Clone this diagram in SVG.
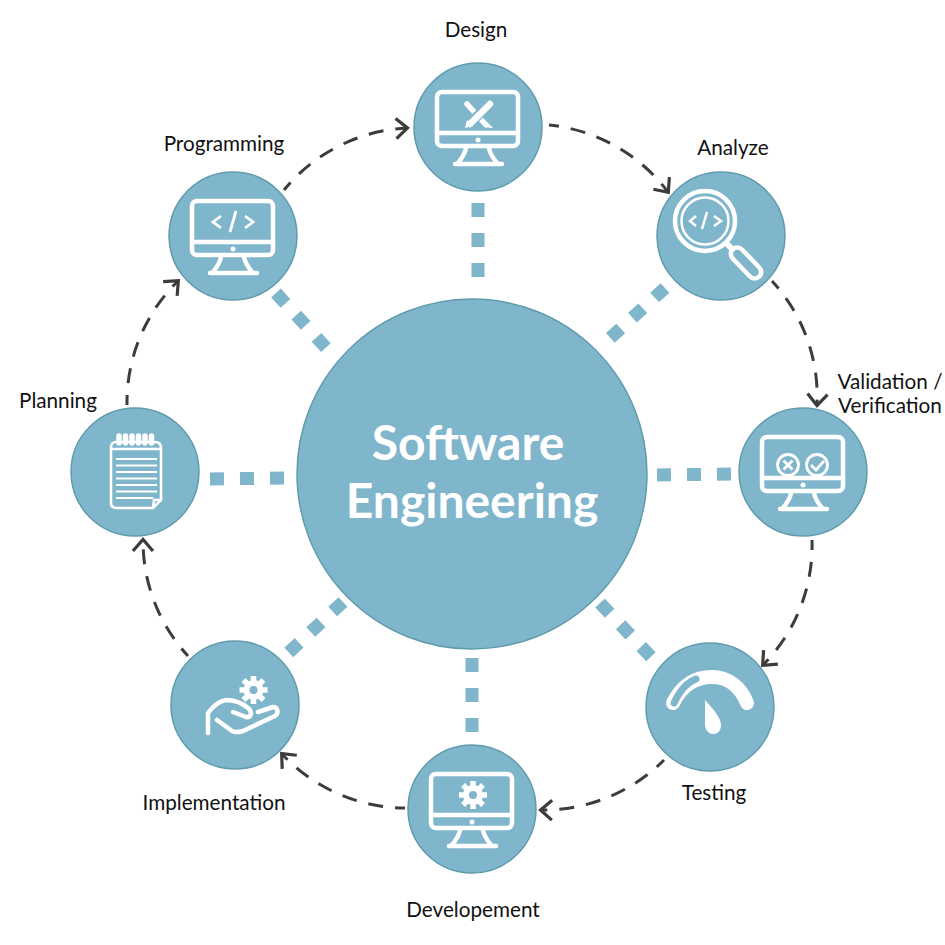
<svg xmlns="http://www.w3.org/2000/svg" width="945" height="945" viewBox="0 0 945 945">
<style>
text{font-family:Lato,"Liberation Sans",sans-serif;font-size:20.7px;fill:#111;text-anchor:middle}
.t{font-size:48px;font-weight:700;fill:#fff}
.n{fill:#80b6cc;stroke:#5f9bad;stroke-width:1.5}
.a{fill:none;stroke:#3c3c3c;stroke-width:3;stroke-dasharray:15 12;stroke-dashoffset:5;marker-end:url(#h)}
.s{fill:none;stroke:#80b6cc;stroke-width:13;stroke-dasharray:14 16}
.i{fill:none;stroke:#fff;stroke-width:4.5;stroke-linecap:round;stroke-linejoin:round}
.f{fill:#fff}
</style>
<defs>
<marker id="h" markerUnits="userSpaceOnUse" markerWidth="24" markerHeight="24" refX="12" refY="12" orient="auto" overflow="visible"><path d="M1 2 L12.500 12 L1 22" fill="none" stroke="#3c3c3c" stroke-width="3.200"/></marker>
<g id="mon">
<rect x="-41" y="-35" width="81" height="54" rx="5" class="i"/>
<path d="M-41 6 H40" class="i"/>
<circle cx="0" cy="13" r="2.500" class="f"/>
<path d="M-12 21 C-13 27 -16 31 -20 36 M11 21 C12 27 15 31 19 36" class="i"/>
<path d="M-23 37 H24" class="i"/>
</g>
<g id="gear">
<path d="M0 -14V-8M0 8V14M-14 0H-8M8 0H14M-10 -10L-6 -6M6 6L10 10M10 -10L6 -6M-6 6L-10 10" fill="none" stroke="#fff" stroke-width="5.500"/>
<circle r="7" fill="none" stroke="#fff" stroke-width="6"/>
</g>
</defs>
<rect width="945" height="945" fill="#fff"/>
<g id="connectors">
<path class="s" d="M478 203V278"/>
<path class="s" d="M665 288L608 340"/>
<path class="s" d="M657 475L736 474"/>
<path class="s" d="M600 603L654 660"/>
<path class="s" d="M472 658V736"/>
<path class="s" d="M343 602L286 655"/>
<path class="s" d="M210 479L288 478"/>
<path class="s" d="M276 293L329 351"/>
<path class="a" d="M284 190A170 170 0 0 1 407 128"/>
<path class="a" d="M549 125A170 170 0 0 1 668 192"/>
<path class="a" d="M772 281A170 170 0 0 1 817 405"/>
<path class="a" d="M812 540A170 170 0 0 1 763 665"/>
<path class="a" d="M664 760A170 170 0 0 1 541 810"/>
<path class="a" d="M405 808A170 170 0 0 1 282 754"/>
<path class="a" d="M188 656A170 170 0 0 1 143 540"/>
<path class="a" d="M127 405A170 170 0 0 1 178 281"/>
</g>
<g id="center">
<circle class="n" cx="472" cy="474" r="175"/>
<text class="t" x="468" y="460">Software</text>
<text class="t" x="472" y="518">Engineering</text>
</g>
<g id="design">
<circle class="n" cx="478" cy="127" r="64"/>
<use href="#mon" x="478" y="127"/>
<path d="M467 104L486 125" stroke="#fff" stroke-width="5.500" stroke-linecap="round" fill="none"/>
<path d="M485 125C488 128 490 128 493 128L487 122Z" class="f"/>
<path d="M490 104L469 124" stroke="#80b6cc" stroke-width="10" fill="none"/>
<path d="M490 104L470 124" stroke="#fff" stroke-width="6.500" stroke-linecap="round" fill="none"/>
<path d="M465 128L467 120L473 126Z" class="f"/>
<text x="476" y="37">Design</text>
</g>
<g id="analyze">
<circle class="n" cx="721" cy="236" r="64"/>
<circle cx="705" cy="221" r="30" fill="none" stroke="#fff" stroke-width="4.500"/>
<circle cx="705" cy="221" r="23.500" fill="none" stroke="#fff" stroke-width="2.500"/>
<path d="M726 243L733 250" stroke="#fff" stroke-width="6"/>
<rect x="-6.500" y="-19" width="13" height="38" rx="6.500" transform="translate(746 263) rotate(-44)" class="i"/>
<path d="M696 216L690 221L696 226M714 216L721 221L714 226M707 212L702 229" fill="none" stroke="#fff" stroke-width="2.500"/>
<text x="733" y="155">Analyze</text>
</g>
<g id="validation">
<circle class="n" cx="803" cy="472" r="64"/>
<use href="#mon" x="803" y="472"/>
<circle cx="788" cy="465" r="10.500" fill="none" stroke="#fff" stroke-width="2.800"/>
<circle cx="817" cy="465" r="10.500" fill="none" stroke="#fff" stroke-width="2.800"/>
<path d="M783.500 460.500L792.500 469.500M792.500 460.500L783.500 469.500M811 465L816 470L824 461" fill="none" stroke="#fff" stroke-width="2.800"/>
<text x="890" y="389">Validation /</text>
<text x="890" y="413">Verification</text>
</g>
<g id="testing">
<circle class="n" cx="710" cy="707" r="64"/>
<path d="M673 703C682 685 696 677 712 677C729 677 741 688 747 703" fill="none" stroke="#fff" stroke-width="14" stroke-linecap="round"/>
<path d="M674 703C680 690 688 682 696 679" fill="none" stroke="#80b6cc" stroke-width="7" stroke-linecap="round"/>
<path d="M705 700L705 725C706 737 721 737 721 725C721 717 712 708 705 700Z" class="f"/>
<text x="714" y="800">Testing</text>
</g>
<g id="developement">
<circle class="n" cx="472" cy="809" r="64"/>
<use href="#mon" x="472" y="809"/>
<use href="#gear" x="473" y="795"/>
<text x="473" y="917">Developement</text>
</g>
<g id="implementation">
<circle class="n" cx="235" cy="705" r="64"/>
<use href="#gear" x="253.500" y="690"/>
<path d="M208 733V713C214 705 219 701 226 700C234 700 242 703 248 708C253 712 251 718 246 717L233 712M217 720L232 731C236 733 240 732 243 731L275 716C279 713 278 707 273 707L258 712" class="i" stroke-linecap="butt"/>
<text x="214" y="810">Implementation</text>
</g>
<g id="planning">
<circle class="n" cx="135" cy="472" r="64"/>
<path d="M116 442H155C159 442 161 444 161 448V500L153 508H117C113 508 111 506 111 503V447C111 444 113 442 116 442Z" fill="none" stroke="#fff" stroke-width="2.500"/>
<path d="M111 449H161" stroke="#fff" stroke-width="2.500"/>
<path d="M161 500H154L153 508" fill="none" stroke="#fff" stroke-width="2.500"/>
<path d="M116 459H157M116 465.500H157M116 472H157M116 478.500H157M116 485H157M116 491.500H157M116 498H153" stroke="#fff" stroke-width="2" fill="none"/>
<path d="M119 436V443M125.500 436V443M132 436V443M138.500 436V443M145 436V443M151.500 436V443" stroke="#fff" stroke-width="5.500" stroke-linecap="round"/>
<text x="58" y="408">Planning</text>
</g>
<g id="programming">
<circle class="n" cx="233" cy="236" r="64"/>
<use href="#mon" x="233" y="236"/>
<path d="M221 216L213 222L221 228M245 216L253 222L245 228M236 211L230 232" fill="none" stroke="#fff" stroke-width="2.800"/>
<text x="224" y="151">Programming</text>
</g>
</svg>
